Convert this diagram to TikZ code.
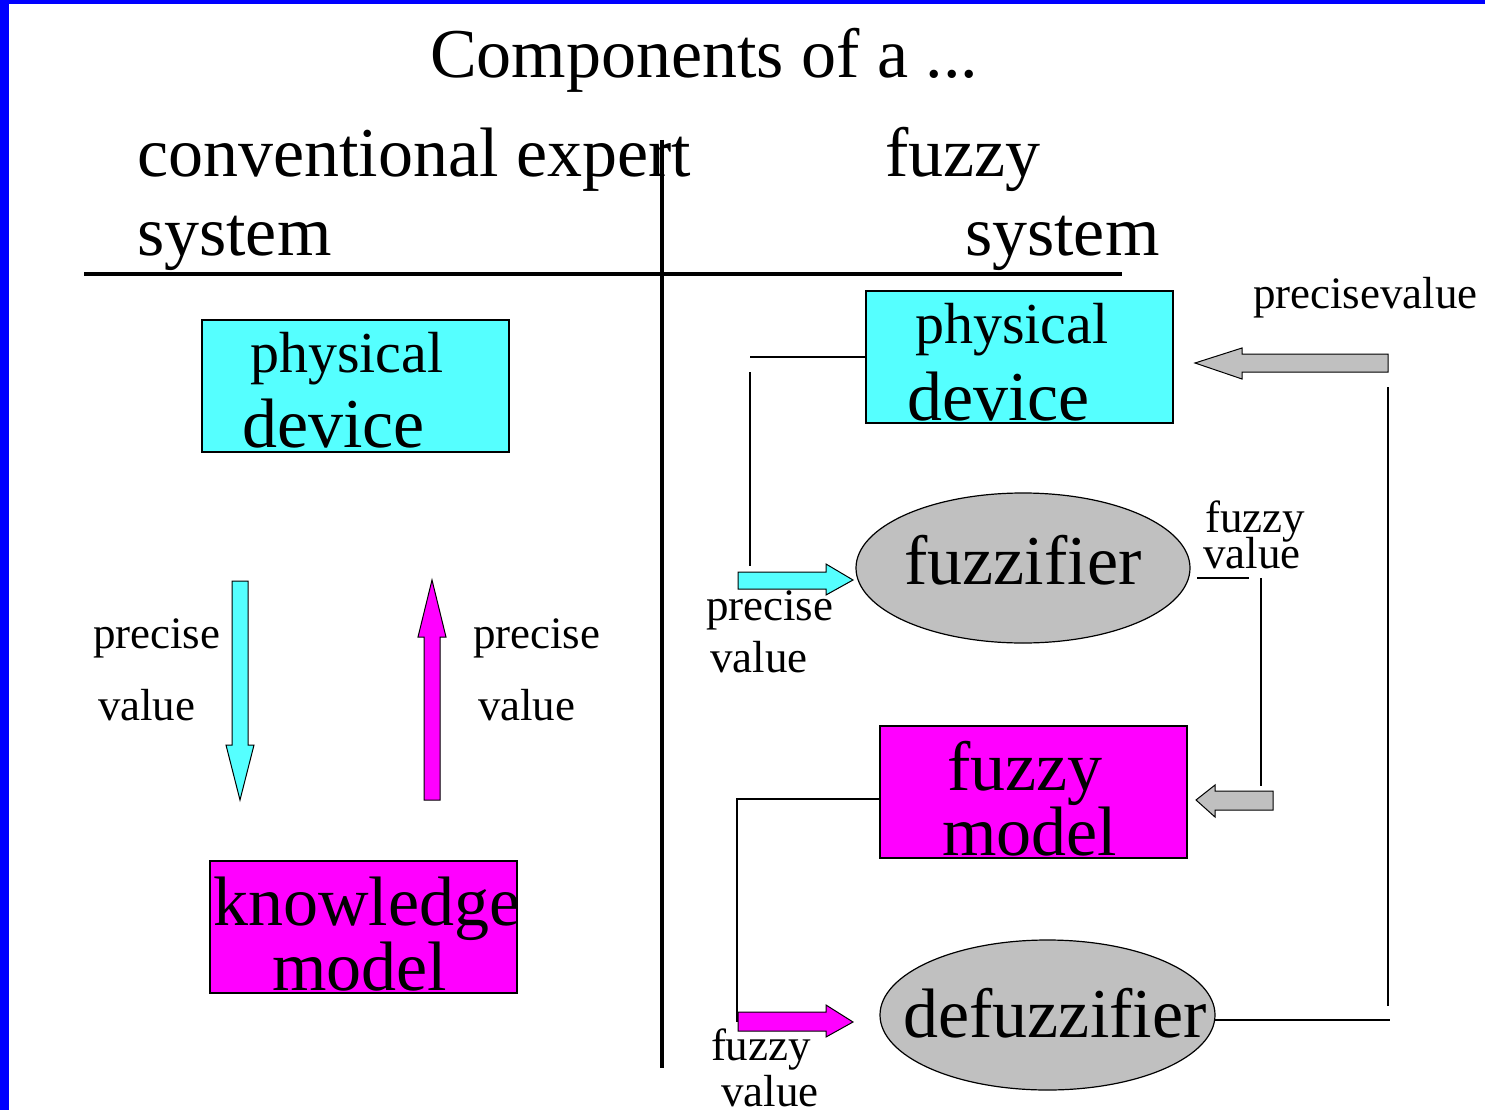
\documentclass[tikz,border=0pt]{standalone}
\usepackage{fontspec}
\setmainfont{Liberation Serif}
\usetikzlibrary{shapes.geometric}
\definecolor{boxcyan}{RGB}{85,255,255}
\definecolor{boxmag}{RGB}{255,0,255}
\definecolor{boxgray}{RGB}{192,192,192}
\definecolor{frameblue}{RGB}{0,0,255}

\begin{document}
\begin{tikzpicture}[x=1pt,y=-1pt,
  txt/.style={anchor=base west, inner sep=0pt, outer sep=0pt},
  huge/.style={txt, font=\fontsize{70}{70}\selectfont},
  mid/.style={txt, font=\fontsize{58}{58}\selectfont},
  small/.style={txt, font=\fontsize{45}{45}\selectfont},
  block/.style={draw=black, line width=1.2pt, rectangle, inner sep=0pt, outer sep=0pt,
    anchor=north west, minimum width=307pt, minimum height=132pt},
  oval/.style={draw=black, line width=1.2pt, ellipse, fill=boxgray, inner sep=0pt, outer sep=0pt,
    minimum width=334pt, minimum height=150pt},
  wire/.style={line width=2pt, black},
  axis/.style={line width=4.5pt, black},
  blockarrow/.style={draw=black, line width=1pt, line join=miter},
]
% page and frame
\useasboundingbox (0,0) rectangle (1485,1110);
\fill[white] (0,0) rectangle (1485,1110);
\fill[frameblue] (0,0) rectangle (9,1110);
\fill[frameblue] (0,0) rectangle (1485,4);

% headings
\node[huge] (title) at (430,78) {Components of a ...};
\node[huge] (convA) at (137,177) {conventional expert};
\node[huge] (convB) at (137,255) {system};
\node[huge] (fuzA) at (885,177) {fuzzy};
\node[huge] (fuzB) at (965,255) {system};

% dividing axes
\coordinate (hl) at (84,274);  \coordinate (hr) at (1122,274);
\coordinate (vt) at (662,140); \coordinate (vb) at (662,1068);
\draw[axis] (hl) -- (hr);
\draw[axis] (vt) -- (vb);

% ---------- conventional expert system ----------
\node[block, fill=boxcyan] (pdL) at (202,320) {};
\node[mid]  (pdLa) at (250,372) {physical};
\node[huge] (pdLb) at (242,447) {device};

\node[block, fill=boxmag] (kmL) at (210,861) {};
\node[huge] (kmLa) at (213,925) {knowledge};
\node[huge] (kmLb) at (272,990) {model};

\draw[blockarrow, fill=boxcyan] (232,581) -- (248,581) -- (248,745) -- (254,745)
  -- (240,800) -- (226,745) -- (232,745) -- cycle;
\draw[blockarrow, fill=boxmag] (424,800) -- (440,800) -- (440,637) -- (446,637)
  -- (432,580) -- (418,637) -- (424,637) -- cycle;

\node[small] (lpa) at (93,648) {precise};
\node[small] (lpb) at (98,720) {value};
\node[small] (rpa) at (473,648) {precise};
\node[small] (rpb) at (478,720) {value};

% ---------- fuzzy system ----------
\node[block, fill=boxcyan] (pdR) at (866,291) {};
\node[mid]  (pdRa) at (915,343) {physical};
\node[huge] (pdRb) at (907,420) {device};

\node[oval] (fz) at (1023,568) {};
\node[huge, anchor=base] (fzt) at (1023,584) {fuzzifier};

\node[block, fill=boxmag] (fm) at (880,726) {};
\node[huge] (fma) at (947,790) {fuzzy};
\node[huge] (fmb) at (942,855) {model};

\node[oval, minimum width=335pt] (dfz) at (1047.5,1015) {};
\node[huge, anchor=base] (dfzt) at (1055,1037) {defuzzifier};

% labels along the loop
\node[small] (pv) at (1253,308) {precisevalue};
\node[small] (fva) at (1205,532) {fuzzy};
\node[small] (fvb) at (1203,568) {value};
\node[small] (pia) at (706,620) {precise};
\node[small] (pib) at (710,672) {value};
\node[small] (fia) at (711,1060) {fuzzy};
\node[small] (fib) at (721,1106) {value};

% loop wiring
\coordinate (a1) at (750,357);
\coordinate (a2) at (750,372);
\coordinate (a3) at (750,566);
\draw[wire] (pdR.west) -- (a1);
\draw[wire] (a2) -- (a3);

\coordinate (b1) at (1197,578);
\coordinate (b2) at (1249,578);
\coordinate (b3) at (1261,578);
\coordinate (b4) at (1261,786);
\draw[wire] (b1) -- (b2);
\draw[wire] (b3) -- (b4);

\coordinate (c1) at (737,799);
\coordinate (c2) at (737,1022);
\draw[wire] (fm.west |- c1) -- (c1) -- (c2);

\coordinate (d1) at (1390,1020);
\coordinate (d2) at (1388,387);
\coordinate (d3) at (1388,1006);
\draw[wire] (dfz.east |- d1) -- (d1);
\draw[wire] (d2) -- (d3);

% block arrows of the loop
\draw[blockarrow, fill=boxcyan] (738,572) -- (826,572) -- (826,564) -- (853,580)
  -- (826,595) -- (826,589) -- (738,589) -- cycle;
\draw[blockarrow, fill=boxgray] (1388,354) -- (1242,354) -- (1242,348) -- (1195,363)
  -- (1242,379) -- (1242,372) -- (1388,372) -- cycle;
\draw[blockarrow, fill=boxgray] (1273,791) -- (1215,791) -- (1215,785) -- (1196,800)
  -- (1215,817) -- (1215,810) -- (1273,810) -- cycle;
\draw[blockarrow, fill=boxmag] (738,1012) -- (826,1012) -- (826,1005) -- (853,1022)
  -- (826,1037) -- (826,1031) -- (738,1031) -- cycle;
\end{tikzpicture}
\end{document}
